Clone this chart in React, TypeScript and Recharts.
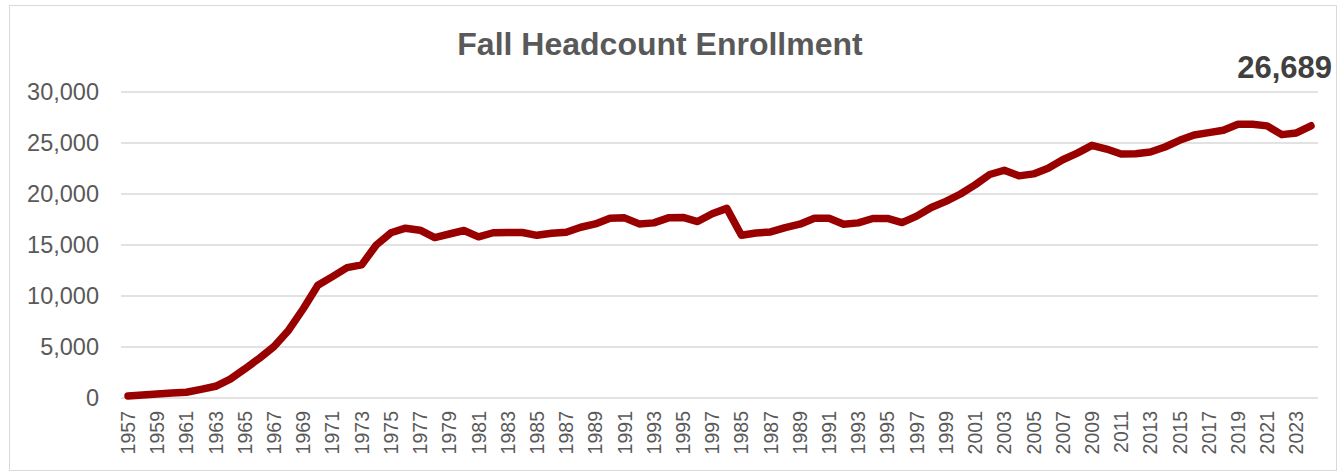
import { CartesianGrid, LabelList, Line, LineChart, XAxis, YAxis } from "recharts"

// The source sheet repeats 1985–1998 once, so those labels show up twice on the axis
const years = [
  "1957", "1958", "1959", "1960", "1961", "1962", "1963", "1964", "1965", "1966",
  "1967", "1968", "1969", "1970", "1971", "1972", "1973", "1974", "1975", "1976",
  "1977", "1978", "1979", "1980", "1981", "1982", "1983", "1984", "1985", "1986",
  "1987", "1988", "1989", "1990", "1991", "1992", "1993", "1994", "1995", "1996",
  "1997", "1998",
  "1985", "1986", "1987", "1988", "1989", "1990", "1991", "1992", "1993", "1994",
  "1995", "1996", "1997", "1998", "1999", "2000", "2001", "2002", "2003", "2004",
  "2005", "2006", "2007", "2008", "2009", "2010", "2011", "2012", "2013", "2014",
  "2015", "2016", "2017", "2018", "2019", "2020", "2021", "2022", "2023", "2024",
]

const enrollment = [
  200, 300, 400, 500, 560, 850, 1150, 1850, 2850, 3900,
  5050, 6650, 8750, 11050, 11900, 12780, 13050, 15000, 16200, 16650,
  16450, 15730, 16080, 16420, 15800, 16200, 16220, 16230, 15950, 16150,
  16250, 16740, 17070, 17630, 17660, 17070, 17170, 17660, 17700, 17300,
  18060, 18590,
  15950, 16180, 16280, 16710, 17040, 17630, 17630, 17040, 17170, 17600,
  17600, 17200, 17830, 18680, 19280, 20000, 20890, 21910, 22330, 21780,
  21970, 22530, 23360, 24010, 24770, 24410, 23920, 23950, 24120, 24610,
  25260, 25790, 26020, 26250, 26840, 26840, 26680, 25820, 25990, 26689,
]

const yTicks = [0, 5000, 10000, 15000, 20000, 25000, 30000]

const data = years.map((year, i) => ({ year, value: enrollment[i] }))
const lastIndex = data.length - 1

const font = "'Liberation Sans', Arial, sans-serif"

function XTick({ x, payload }: any) {
  return (
    <text
      x={x}
      y={411}
      transform={`rotate(-90 ${x} 411)`}
      textAnchor="end"
      dominantBaseline="central"
      fontSize={19.5}
      fontFamily={font}
      fill="#595959"
    >
      {payload.value}
    </text>
  )
}

function YTick({ y, payload }: any) {
  return (
    <text x={99} y={y} dy="0.35em" textAnchor="end" fontSize={23.5} fontFamily={font} fill="#595959">
      {payload.value.toLocaleString("en-US")}
    </text>
  )
}

function LastLabel(props: any) {
  const { x, y, value, index } = props
  if (index !== lastIndex) return null
  return (
    <text
      x={x + 21}
      y={y - 48}
      textAnchor="end"
      fontSize={31}
      fontWeight="bold"
      fontFamily={font}
      fill="#404040"
    >
      {Number(value).toLocaleString("en-US")}
    </text>
  )
}

export default function App() {
  return (
    <div style={{ position: "absolute", left: 0, top: 0, width: 1337, height: 472, background: "#fff" }}>
      <div
        style={{
          position: "absolute",
          left: 9,
          top: 5,
          width: 1326,
          height: 464,
          border: "1.5px solid #d9d9d9",
        }}
      />
      <div
        style={{
          position: "absolute",
          left: 0,
          width: 1320,
          top: 26,
          textAlign: "center",
          fontFamily: font,
          fontWeight: "bold",
          fontSize: 32,
          color: "#595959",
        }}
      >
        Fall Headcount Enrollment
      </div>
      <LineChart
        width={1337}
        height={472}
        data={data}
        margin={{ top: 92, right: 19, bottom: 0, left: 0 }}
        style={{ position: "absolute", left: 0, top: 0 }}
      >
        <CartesianGrid vertical={false} stroke="#d9d9d9" strokeWidth={1.5} />
        <XAxis
          dataKey="year"
          interval={1}
          height={74}
          axisLine={false}
          tickLine={false}
          padding={{ left: 7, right: 7 }}
          tick={<XTick />}
        />
        <YAxis
          width={121}
          domain={[0, 30000]}
          ticks={yTicks}
          axisLine={false}
          tickLine={false}
          tick={<YTick />}
        />
        <Line
          type="linear"
          dataKey="value"
          stroke="#990000"
          strokeWidth={7.5}
          strokeLinejoin="round"
          strokeLinecap="round"
          dot={false}
          isAnimationActive={false}
        >
          <LabelList dataKey="value" content={<LastLabel />} />
        </Line>
      </LineChart>
    </div>
  )
}
